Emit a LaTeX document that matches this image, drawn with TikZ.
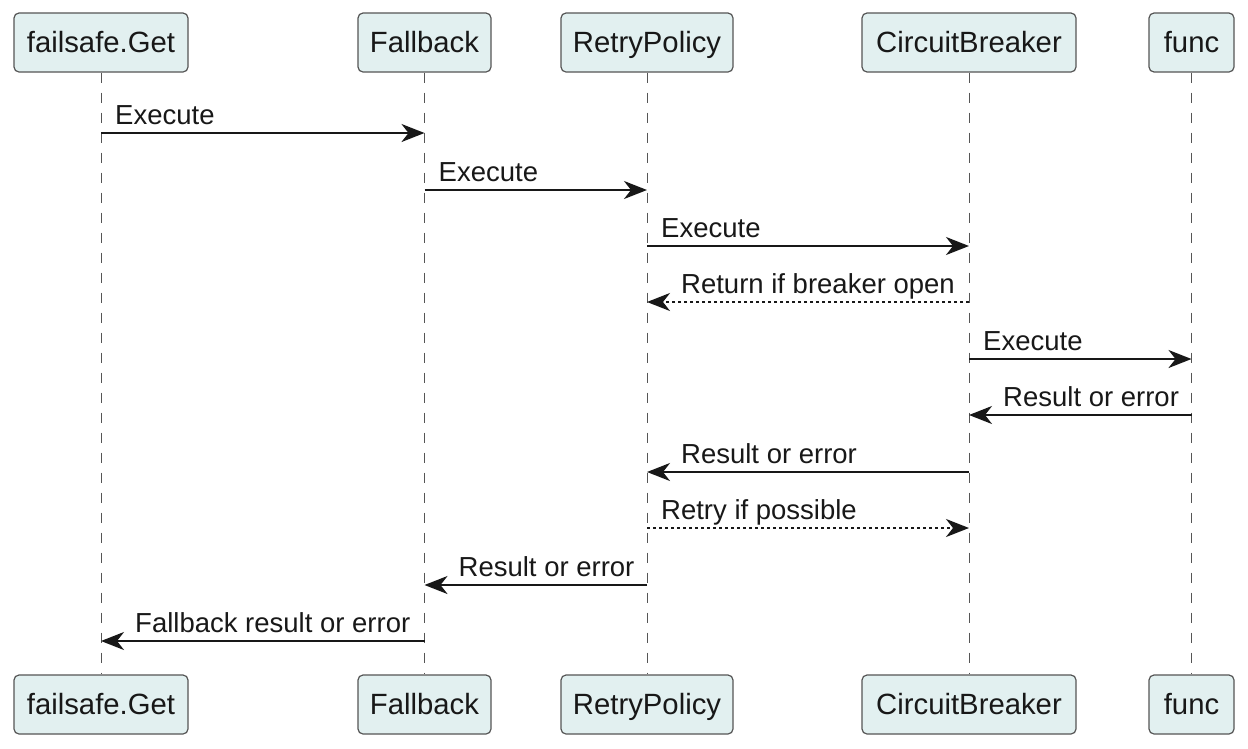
\documentclass[tikz,border=0pt]{standalone}
\usepackage{fontspec}
\setmainfont{Liberation Sans}
\usetikzlibrary{arrows.meta}
\definecolor{boxfill}{RGB}{226,240,240}
\definecolor{boxline}{RGB}{85,85,85}
\definecolor{ink}{RGB}{24,24,24}
\begin{document}
\begin{tikzpicture}[x=1pt,y=-1pt,
  part/.style={draw=boxline,line width=1.2pt,fill=boxfill,rounded corners=5pt,
    minimum height=59pt,inner sep=0pt,text height=20pt,text depth=0pt,
    font=\fontsize{29.3}{32}\selectfont,text=ink},
  life/.style={draw=boxline,line width=1pt,dash pattern=on 10pt off 10pt},
  msg/.style={draw=ink,line width=2pt,-{Stealth[length=23pt,width=18pt,inset=7pt]}},
  ret/.style={msg,dash pattern=on 3pt off 3pt},
  lbl/.style={font=\fontsize{27.5}{30}\selectfont,text=ink,inner sep=0pt}]
\useasboundingbox (0,0) rectangle (1248,748);
% participants
\node[part,minimum width=174pt] (t1) at (101,42.5) {failsafe.Get};
\node[part,minimum width=133pt] (t2) at (424.5,42.5) {Fallback};
\node[part,minimum width=172pt] (t3) at (647,42.5) {RetryPolicy};
\node[part,minimum width=214pt] (t4) at (969,42.5) {CircuitBreaker};
\node[part,minimum width=85pt] (t5) at (1191.5,42.5) {func};
\node[part,minimum width=174pt] (b1) at (101,704.5) {failsafe.Get};
\node[part,minimum width=133pt] (b2) at (424.5,704.5) {Fallback};
\node[part,minimum width=172pt] (b3) at (647,704.5) {RetryPolicy};
\node[part,minimum width=214pt] (b4) at (969,704.5) {CircuitBreaker};
\node[part,minimum width=85pt] (b5) at (1191.5,704.5) {func};
% lifelines
\foreach \i in {1,...,5} {\draw[life] (t\i.south) -- (b\i.north);}
% message rows
\foreach \n/\y in {1/133,2/190,3/246,4/302,5/359,6/415,7/472,8/528,9/585,10/641}
  {\coordinate (m\n) at (0,\y);}
% messages (labels: right arrows 14pt after source, left arrows 34pt after target)
\draw[msg] (t1 |- m1) -- (t2 |- m1);
\node[lbl,anchor=base west] at ([xshift=14pt,yshift=8.5pt]t1 |- m1) {Execute};
\draw[msg] (t2 |- m2) -- (t3 |- m2);
\node[lbl,anchor=base west] at ([xshift=14pt,yshift=8.5pt]t2 |- m2) {Execute};
\draw[msg] (t3 |- m3) -- (t4 |- m3);
\node[lbl,anchor=base west] at ([xshift=14pt,yshift=8.5pt]t3 |- m3) {Execute};
\draw[ret] (t4 |- m4) -- (t3 |- m4);
\node[lbl,anchor=base west] at ([xshift=34pt,yshift=8.5pt]t3 |- m4) {Return if breaker open};
\draw[msg] (t4 |- m5) -- (t5 |- m5);
\node[lbl,anchor=base west] at ([xshift=14pt,yshift=8.5pt]t4 |- m5) {Execute};
\draw[msg] (t5 |- m6) -- (t4 |- m6);
\node[lbl,anchor=base west] at ([xshift=34pt,yshift=8.5pt]t4 |- m6) {Result or error};
\draw[msg] (t4 |- m7) -- (t3 |- m7);
\node[lbl,anchor=base west] at ([xshift=34pt,yshift=8.5pt]t3 |- m7) {Result or error};
\draw[ret] (t3 |- m8) -- (t4 |- m8);
\node[lbl,anchor=base west] at ([xshift=14pt,yshift=8.5pt]t3 |- m8) {Retry if possible};
\draw[msg] (t3 |- m9) -- (t2 |- m9);
\node[lbl,anchor=base west] at ([xshift=34pt,yshift=8.5pt]t2 |- m9) {Result or error};
\draw[msg] (t2 |- m10) -- (t1 |- m10);
\node[lbl,anchor=base west] at ([xshift=34pt,yshift=8.5pt]t1 |- m10) {Fallback result or error};
\end{tikzpicture}
\end{document}
